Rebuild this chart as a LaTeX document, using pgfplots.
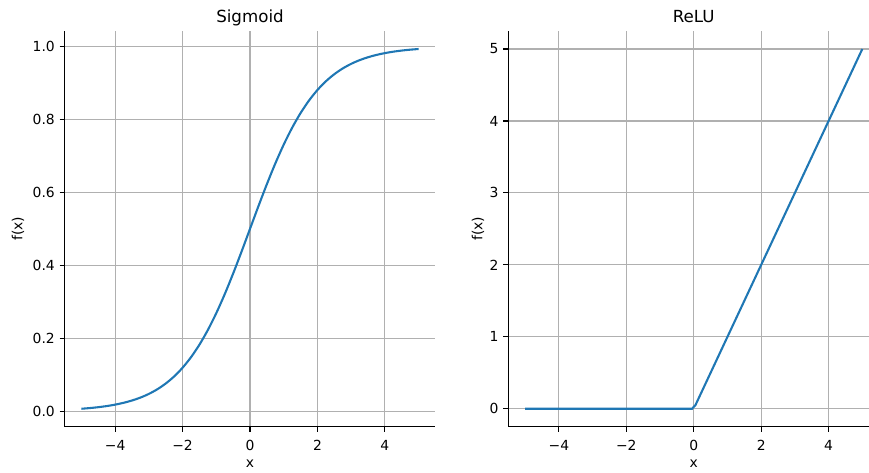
\documentclass[border=0pt]{standalone}
\usepackage{fontspec}
\setmainfont{DejaVu Sans}
\usepackage{pgfplots}
\pgfplotsset{compat=1.18}
\definecolor{mplblue}{HTML}{1F77B4}
\definecolor{gridgray}{HTML}{B0B0B0}
\pgfplotsset{
  myaxis/.style={
    scale only axis,
    width=267pt, height=284.9pt,
    anchor=south west,
    axis x line*=bottom, axis y line*=left,
    axis line style={-, line width=0.8pt, black},
    tick align=outside,
    major tick length=3.5pt,
    tick style={line width=0.8pt, black},
    grid=major,
    grid style={gridgray, line width=0.8pt},
    ticklabel style={font=\fontsize{10}{12}\selectfont},
    xticklabel style={yshift=-2.5pt},
    xmin=-5.5, xmax=5.5,
    xtick={-4,-2,0,2,4},
    xticklabels={−4,−2,0,2,4},
    xlabel={x}, ylabel={f(x)},
    label style={font=\fontsize{10}{12}\selectfont},
    xlabel style={at={(axis description cs:0.5,0)}, anchor=base, yshift=-29pt},
    title style={at={(axis description cs:0.5,1)}, anchor=base, yshift=0.3pt, font=\fontsize{12}{14}\selectfont},
  }
}
\begin{document}
\begin{tikzpicture}
\useasboundingbox (0,0) rectangle (625.68pt,339.84pt);
\begin{axis}[myaxis, at={(46.5pt,32.6pt)},
  title={Sigmoid},
  ymin=-0.0426, ymax=1.0426,
  ytick={0,0.2,0.4,0.6,0.8,1.0},
  yticklabels={0.0,0.2,0.4,0.6,0.8,1.0},
  ylabel style={at={(axis description cs:-0.1257,0.5)}, anchor=center},
]
\addplot[mplblue, line width=1.5pt, smooth] coordinates {
(-5,0.006693) (-4.75,0.008577) (-4.5,0.010987) (-4.25,0.014064) (-4,0.017986)
(-3.75,0.022977) (-3.5,0.029312) (-3.25,0.037327) (-3,0.047426) (-2.75,0.060087)
(-2.5,0.075858) (-2.25,0.095349) (-2,0.119203) (-1.75,0.148047) (-1.5,0.182426)
(-1.25,0.222700) (-1,0.268941) (-0.75,0.320821) (-0.5,0.377541) (-0.25,0.437823)
(0,0.5) (0.25,0.562177) (0.5,0.622459) (0.75,0.679179) (1,0.731059)
(1.25,0.777300) (1.5,0.817574) (1.75,0.851953) (2,0.880797) (2.25,0.904651)
(2.5,0.924142) (2.75,0.939913) (3,0.952574) (3.25,0.962673) (3.5,0.970688)
(3.75,0.977023) (4,0.982014) (4.25,0.985936) (4.5,0.989013) (4.75,0.991423)
(5,0.993307)
};
\end{axis}
\begin{axis}[myaxis, at={(366pt,32.6pt)},
  title={ReLU},
  ymin=-0.25, ymax=5.25,
  ytick={0,1,2,3,4,5},
  yticklabels={0,1,2,3,4,5},
  ylabel style={at={(axis description cs:-0.0817,0.5)}, anchor=center},
]
\addplot[mplblue, line width=1.5pt] coordinates {
(-5,0) (-0.0505,0) (0.0505,0.0505) (5,5)
};
\end{axis}
\end{tikzpicture}
\end{document}
